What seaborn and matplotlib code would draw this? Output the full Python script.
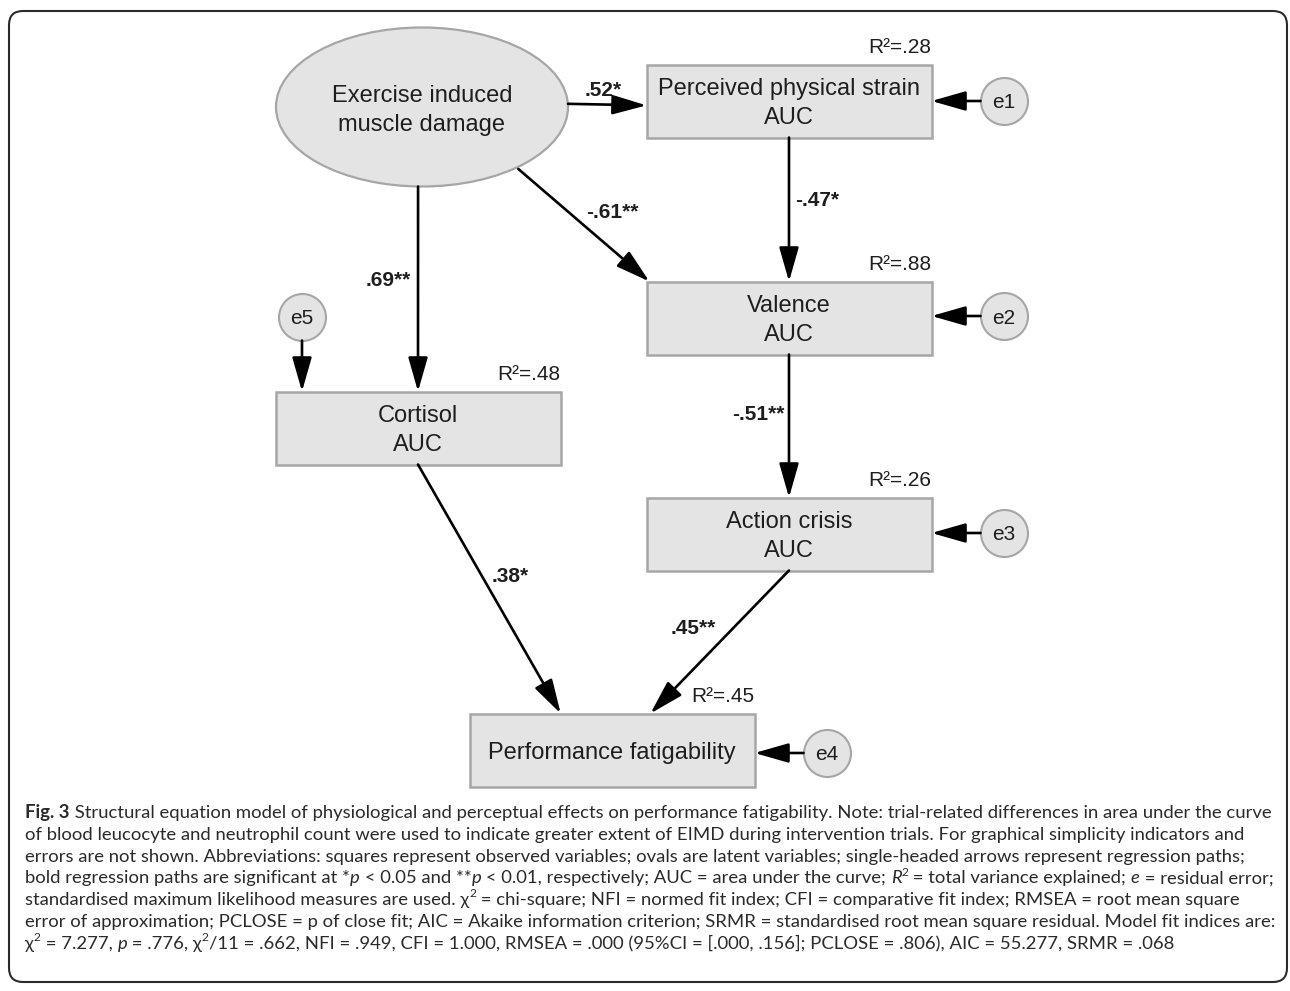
import matplotlib
matplotlib.use("Agg")
import matplotlib.pyplot as plt
from matplotlib import font_manager
from matplotlib.patches import Ellipse, Rectangle, FancyBboxPatch
import seaborn as sns
import pandas as pd

# ── Model data ────────────────────────────────────────────────────────────────

latent_label = "Exercise induced\nmuscle damage"
observed_keys = ["strain", "valence", "cortisol", "crisis", "perf"]
observed_labels = ["Perceived physical strain\nAUC", "Valence\nAUC", "Cortisol\nAUC",
                   "Action crisis\nAUC", "Performance fatigability"]
r2_values = [0.28, 0.88, 0.48, 0.26, 0.45]
error_names = ["e1", "e2", "e5", "e3", "e4"]

path_from = ["eimd", "eimd", "eimd", "strain", "valence", "cortisol", "crisis"]
path_to = ["strain", "valence", "cortisol", "valence", "crisis", "perf", "perf"]
path_coef = [0.52, -0.61, 0.69, -0.47, -0.51, 0.38, 0.45]
path_sig = ["*", "**", "**", "*", "**", "*", "**"]

# ── Layout (pixels) ───────────────────────────────────────────────────────────

W, H = 1290, 991
NODE_XY = {"eimd": (422, 107), "strain": (789, 101), "valence": (789, 318),
           "cortisol": (418, 428), "crisis": (789, 534), "perf": (612, 750)}
ELL_W, ELL_H = 292, 159
BOX_W, BOX_H = 285, 73
ERR_XY = {"strain": (1004, 101), "valence": (1004, 316), "cortisol": (302, 317),
          "crisis": (1004, 533), "perf": (827, 753)}
ERR_R = 23.5
# anchors as fractions of the node half-size (source, target)
PATH_ANCHORS = [((1.0, -0.04), (-1.0, 0.12)),
                ((0.66, 0.78), (-0.98, -1.0)),
                ((-0.027, 1.0), (0.0, -1.0)),
                ((0.0, 1.0), (0.0, -1.0)),
                ((0.0, 1.0), (0.0, -1.0)),
                ((0.0, 1.0), (-0.36, -1.0)),
                ((0.0, 1.0), (0.27, -1.0))]
LABEL_XY = [(603, 88), (612, 210), (388, 278), (817, 199), (758, 413), (510, 575), (693, 627)]

INK = "#1e1e1e"
FILL = "#e4e4e4"
EDGE = "#a6a6a6"
DIAG_FONT = ["Liberation Sans", "DejaVu Sans"]
CAP_CANDIDATES = ["Roboto Condensed", "Liberation Sans Narrow", "Open Sans Condensed", "Lato"]
CAP_TARGET_PT = 12.4
PX = 100 / 72


def half_size(key):
    if key == "eimd":
        return ELL_W / 2, ELL_H / 2
    return BOX_W / 2, BOX_H / 2


def anchor(key, frac):
    cx, cy = NODE_XY[key]
    hw, hh = half_size(key)
    return cx + frac[0] * hw, cy + frac[1] * hh


def arrow(ax, p0, p1):
    ax.annotate("", xy=p1, xytext=p0, xycoords="data", zorder=5,
                arrowprops=dict(arrowstyle="-|>,head_length=1.05,head_width=0.3",
                                mutation_scale=20, lw=1.9, color="black",
                                shrinkA=0, shrinkB=0))


def fmt(v):
    return f"{v:.2f}".replace("0.", ".")


def centered_lines(ax, x, y, text, size, step=28.5, **kw):
    lines = text.split("\n")
    for i, line in enumerate(lines):
        yy = y + (i - (len(lines) - 1) / 2) * step + 0.36 * size * PX
        ax.text(x, yy, line, ha="center", va="baseline", fontsize=size,
                family=DIAG_FONT, color=INK, zorder=6, **kw)


def installed(name):
    try:
        font_manager.findfont(font_manager.FontProperties(family=name),
                              fallback_to_default=False)
        return True
    except ValueError:
        return False


# ── Figure ────────────────────────────────────────────────────────────────────

sns.set_theme(style="white")
plt.rcParams["font.family"] = DIAG_FONT

fig = plt.figure(figsize=(W / 100, H / 100), dpi=100)
ax = fig.add_axes([0, 0, 1, 1])

ax.add_patch(FancyBboxPatch((9, 11), 1278, 971, boxstyle="round,pad=0,rounding_size=14",
                            fc="white", ec="#2b2b2b", lw=1.5, zorder=0))

# latent variable
ex, ey = NODE_XY["eimd"]
ax.add_patch(Ellipse((ex, ey), ELL_W, ELL_H, fc=FILL, ec=EDGE, lw=1.6, zorder=2))
centered_lines(ax, ex, ey + 1, latent_label, 17)

# observed variables + R²
for key, label, r2 in zip(observed_keys, observed_labels, r2_values):
    cx, cy = NODE_XY[key]
    ax.add_patch(Rectangle((cx - BOX_W / 2, cy - BOX_H / 2), BOX_W, BOX_H,
                           fc=FILL, ec=EDGE, lw=1.8, zorder=2))
    centered_lines(ax, cx, cy, label, 17)
    ax.text(cx + BOX_W / 2, cy - BOX_H / 2 - 19 + 0.36 * 15 * PX, f"R²={fmt(r2)}",
            ha="right", va="baseline", fontsize=15, family=DIAG_FONT, color=INK)

# regression paths
for i, (a, b) in enumerate(zip(path_from, path_to)):
    fa, fb = PATH_ANCHORS[i]
    arrow(ax, anchor(a, fa), anchor(b, fb))
    lx, ly = LABEL_XY[i]
    ax.text(lx, ly + 0.36 * 15 * PX, fmt(path_coef[i]) + path_sig[i], ha="center",
            va="baseline", fontsize=15, fontweight="bold", family=DIAG_FONT, color=INK)

# residual errors
err = pd.DataFrame({"name": error_names,
                    "x": [ERR_XY[k][0] for k in observed_keys],
                    "y": [ERR_XY[k][1] for k in observed_keys]})
sns.scatterplot(data=err, x="x", y="y", ax=ax, s=(2 * ERR_R / PX) ** 2, color=FILL,
                edgecolor=EDGE, linewidth=1.5, zorder=4, legend=False)
ax.set_xlim(0, W)
ax.set_ylim(H, 0)
ax.axis("off")
for key, name in zip(observed_keys, error_names):
    exx, eyy = ERR_XY[key]
    cx, cy = NODE_XY[key]
    if exx > cx + BOX_W / 2:
        arrow(ax, (exx - ERR_R, eyy), (cx + BOX_W / 2, eyy))
    else:
        arrow(ax, (exx, eyy + ERR_R), (exx, cy - BOX_H / 2))
    ax.text(exx, eyy + 0.36 * 15 * PX, name, ha="center", va="baseline",
            fontsize=15, family=DIAG_FONT, color=INK, zorder=6)

# ── Caption (rich text, left aligned) ─────────────────────────────────────────

N, B, I, S = "n", "b", "i", "s"
caption = [
    [(B, "Fig. 3"), (N, " Structural equation model of physiological and perceptual effects on performance fatigability. Note: trial-related differences in area under the curve")],
    [(N, "of blood leucocyte and neutrophil count were used to indicate greater extent of EIMD during intervention trials. For graphical simplicity indicators and")],
    [(N, "errors are not shown. Abbreviations: squares represent observed variables; ovals are latent variables; single-headed arrows represent regression paths;")],
    [(N, "bold regression paths are significant at *"), (I, "p"), (N, " < 0.05 and **"), (I, "p"),
     (N, " < 0.01, respectively; AUC = area under the curve; "), (I, "R"), (S, "2"),
     (N, " = total variance explained; "), (I, "e"), (N, " = residual error;")],
    [(N, "standardised maximum likelihood measures are used. χ"), (S, "2"),
     (N, " = chi-square; NFI = normed fit index; CFI = comparative fit index; RMSEA = root mean square")],
    [(N, "error of approximation; PCLOSE = p of close fit; AIC = Akaike information criterion; SRMR = standardised root mean square residual. Model fit indices are:")],
    [(N, "χ"), (S, "2"), (N, " = 7.277, "), (I, "p"), (N, " = .776, χ"), (S, "2"),
     (N, "/11 = .662, NFI = .949, CFI = 1.000, RMSEA = .000 (95%CI = [.000, .156]; PCLOSE = .806), AIC = 55.277, SRMR = .068")],
]

renderer = fig.canvas.get_renderer()


def style_kw(style, size, fam):
    kw = dict(fontsize=size, family=[fam, "DejaVu Sans"], color="#2a2a2a")
    if style == B:
        kw["fontweight"] = "bold"
    if style == I:
        kw["fontstyle"] = "italic"
    if style == S:
        kw["fontsize"] = size * 0.65
    return kw


def seg_width(text, kw):
    t = ax.text(0, 0, "|" + text + "|", **kw)
    w1 = t.get_window_extent(renderer).width
    t.remove()
    t = ax.text(0, 0, "||", **kw)
    w0 = t.get_window_extent(renderer).width
    t.remove()
    return w1 - w0


def line_width(segs, size, fam):
    return sum(seg_width(txt, style_kw(st, size, fam)) for st, txt in segs)


# pick the installed caption face whose fitted size is closest to the reference glyph size
fits = []
for fam in CAP_CANDIDATES:
    if installed(fam):
        fits.append((fam, 12 * 1242 / line_width(caption[0], 12, fam)))
cap_font, cap_size = min(fits, key=lambda f: abs(f[1] - CAP_TARGET_PT))

x0, base0, step = 25, 818, 21.8
for j, segs in enumerate(caption):
    x = x0
    y = base0 + j * step
    for st, txt in segs:
        kw = style_kw(st, cap_size, cap_font)
        yy = y - 0.42 * cap_size * PX if st == S else y
        ax.text(x, yy, txt, ha="left", va="baseline", **kw)
        x += seg_width(txt, kw)

fig.savefig("out.png", dpi=100)
plt.close("all")
